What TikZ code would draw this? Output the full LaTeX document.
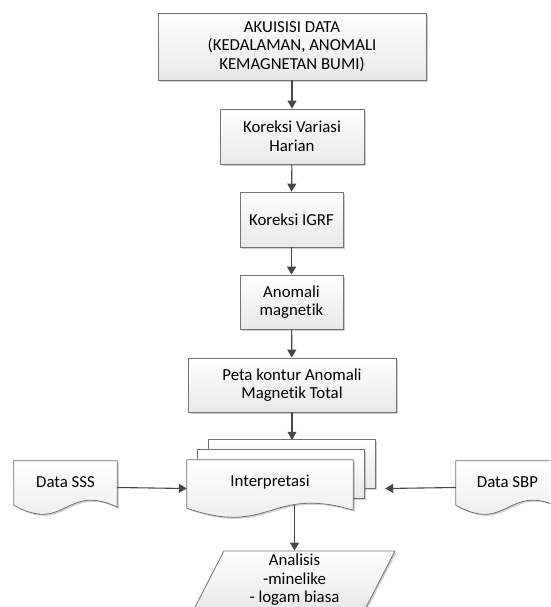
\documentclass[tikz,border=0pt]{standalone}
\usepackage{fontspec}
\setmainfont{Carlito}[Ligatures=NoCommon]
\usetikzlibrary{arrows.meta}
\usetikzlibrary{calc}
\usetikzlibrary{shadows}
\usetikzlibrary{shapes.geometric}
\tikzset{shade/.style = {top color=white, bottom color=black!9,
                         drop shadow={shadow xshift=1.6pt, shadow yshift=-1.6pt,
                                      fill=black, opacity=0.18}}}
\tikzset{box/.style = {shade, draw=black!55, line width=0.8pt, align=center,
                       inner sep=2pt, font=\fontsize{16.8}{18.6}\selectfont}}
\tikzset{doctext/.style = {align=center, inner sep=0pt, font=\fontsize{16.8}{18.6}\selectfont}}
\tikzset{docline/.style = {shade, draw=black!55, line width=0.8pt}}
\tikzset{flow/.style = {draw=black!72, line width=1.1pt,
                        -{Triangle[width=9pt, length=8pt]}}}
\newcommand{\drawdoc}[1]{%
  \draw [docline] (#1.north west) -- (#1.north east) -- ($(#1.south east)+(0,-7)$)
    .. controls ($(#1.south)+(0,-32)$) and ($(#1.south)+(0,20)$) .. ($(#1.south west)+(0,-9)$) -- cycle;}
\begin{document}
\begin{tikzpicture}[x=1pt, y=-1pt]
    \useasboundingbox (0, 0) rectangle (550, 607);
    \clip (0, 0) rectangle (550, 607);

    % main column
    \node [box, minimum width=268, minimum height=67] (akuisisi) at (292, 46.5)
          {AKUISISI DATA\\(KEDALAMAN, ANOMALI\\KEMAGNETAN BUMI)};
    \node [box, minimum width=144, minimum height=55] (harian) at (292, 136.5)
          {Koreksi Variasi\\Harian};
    \node [box, minimum width=103, minimum height=55] (igrf) at (291.5, 219.5) {Koreksi IGRF};
    \node [box, minimum width=103, minimum height=54] (anomali) at (291.5, 302)
          {Anomali\\magnetik};
    \node [box, minimum width=208, minimum height=54] (peta) at (292, 385)
          {Peta kontur Anomali\\Magnetik Total};

    % documents
    \node [doctext, minimum width=166, minimum height=57] (interp) at (270, 488.5) {};
    \node [doctext, minimum width=103, minimum height=53] (sss) at (65.5, 487.5) {};
    \node [doctext, minimum width=103, minimum height=53] (sbp) at (507.5, 487.5) {};
    \coordinate (stacktop) at ($(interp.north west)+(22, -20)$);
    \coordinate (stackright) at ($(interp.east)+(32, 0)$);

    \node [box, shape=trapezium, trapezium left angle=60, trapezium right angle=120,
           trapezium stretches body, minimum width=201, minimum height=58, inner sep=0pt]
          (analisis) at (294.5, 580) {Analisis\\-minelike\\- logam biasa};

    \draw [flow] (interp.center -| analisis.north) -- (analisis.north);

    \foreach \d in {2, 1}
      \draw [docline] ($(interp.north west)+(11*\d, -10*\d)$) rectangle ($(interp.south east)+(11*\d, -9-10*\d)$);
    \drawdoc{interp}
    \drawdoc{sss}
    \drawdoc{sbp}
    \node [doctext] at ($(interp.center)+(0, -6)$) {Interpretasi};
    \node [doctext] at ($(sss.center)+(0, -5)$) {Data SSS};
    \node [doctext] at ($(sbp.center)+(0, -5)$) {Data SBP};

    % connectors
    \draw [flow] (akuisisi) -- (harian);
    \draw [flow] (harian) -- (igrf);
    \draw [flow] (igrf) -- (anomali);
    \draw [flow] (anomali) -- (peta);
    \draw [flow] (peta) -- (peta.south |- stacktop);
    \draw [flow] (sss.east) -- (interp.west);
    \draw [flow] (sbp.west) -- (stackright);
\end{tikzpicture}
\end{document}
